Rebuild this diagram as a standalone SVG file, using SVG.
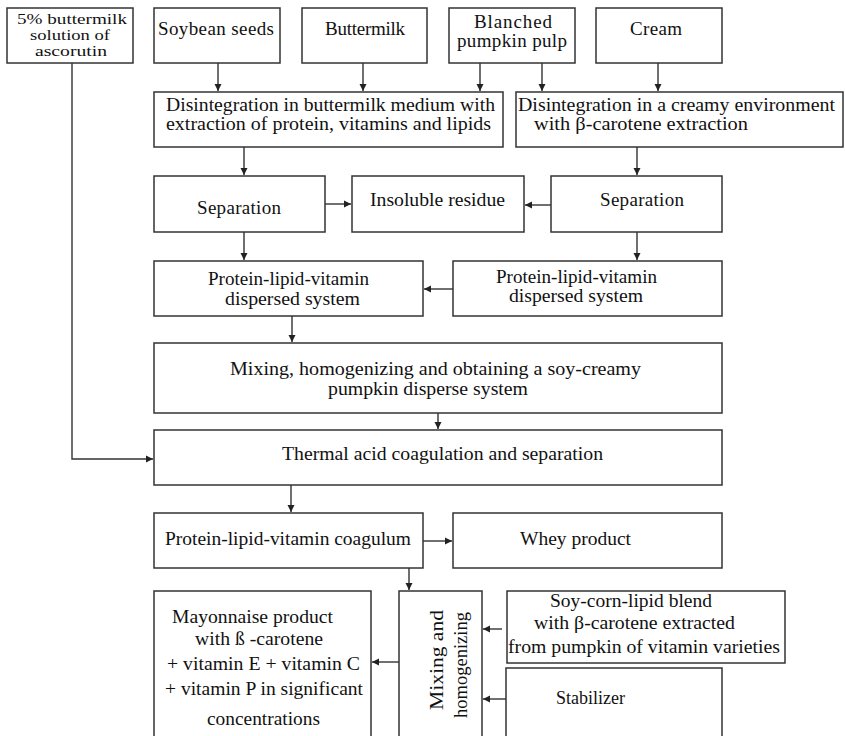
<svg xmlns="http://www.w3.org/2000/svg" width="845" height="736" viewBox="0 0 845 736" font-family="'Liberation Serif', 'Times New Roman', serif">
<defs>
<marker id="ah" markerWidth="8" markerHeight="8" refX="7" refY="4" orient="auto" markerUnits="userSpaceOnUse">
<path d="M0,0.5 L7,4 L0,7.5 Z" fill="#222"/>
</marker>
<style>
rect{fill:#fff;stroke:#333;stroke-width:1.5}
text{font-family:'Liberation Serif','Times New Roman',serif;font-size:19px;fill:#111}
.c{text-anchor:middle}
.s{font-size:15px}
#connectors path{fill:none;stroke:#333;stroke-width:1.4;marker-end:url(#ah)}
</style>
</defs>
<rect x="0" y="0" width="845" height="736" style="fill:#fff;stroke:none"/>

<g id="n-ascorutin"><rect x="7" y="8" width="126" height="55"/>
<text x="17" y="24" class="s" textLength="110" lengthAdjust="spacingAndGlyphs">5% buttermilk</text>
<text x="30" y="40" class="s" textLength="80" lengthAdjust="spacingAndGlyphs">solution  of</text>
<text x="35" y="56" class="s" textLength="72" lengthAdjust="spacingAndGlyphs">ascorutin</text></g>

<g id="n-soy"><rect x="154" y="8" width="126" height="55"/>
<text x="158" y="35" textLength="116" lengthAdjust="spacing">Soybean seeds</text></g>

<g id="n-buttermilk"><rect x="302" y="8" width="125" height="55"/>
<text x="325" y="35" textLength="80" lengthAdjust="spacing">Buttermilk</text></g>

<g id="n-pumpkin"><rect x="449" y="8" width="126" height="55"/>
<text x="474" y="28" textLength="78" lengthAdjust="spacing">Blanched</text>
<text x="457" y="47" textLength="110" lengthAdjust="spacing">pumpkin  pulp</text></g>

<g id="n-cream"><rect x="596" y="8" width="126" height="55"/>
<text x="630" y="35" textLength="52" lengthAdjust="spacing">Cream</text></g>

<g id="n-dis1"><rect x="154" y="92" width="349" height="55"/>
<text x="166" y="111" textLength="329" lengthAdjust="spacingAndGlyphs">Disintegration in buttermilk  medium  with</text>
<text x="166" y="130" textLength="325" lengthAdjust="spacingAndGlyphs">extraction of protein, vitamins  and lipids</text></g>

<g id="n-dis2"><rect x="516" y="92" width="327" height="55"/>
<text x="518" y="111" textLength="317" lengthAdjust="spacingAndGlyphs">Disintegration in a creamy environment</text>
<text x="534" y="130" textLength="214" lengthAdjust="spacingAndGlyphs">with β-carotene extraction</text></g>

<g id="n-sep1"><rect x="154" y="176" width="171" height="56"/>
<text x="197" y="214" textLength="84" lengthAdjust="spacing">Separation</text></g>

<g id="n-residue"><rect x="352" y="176" width="172" height="56"/>
<text x="370" y="206" textLength="135" lengthAdjust="spacingAndGlyphs">Insoluble  residue</text></g>

<g id="n-sep2"><rect x="551" y="176" width="171" height="56"/>
<text x="600" y="206" textLength="84" lengthAdjust="spacing">Separation</text></g>

<g id="n-plv1"><rect x="154" y="261" width="269" height="55"/>
<text x="208" y="285" textLength="161" lengthAdjust="spacingAndGlyphs">Protein-lipid-vitamin</text>
<text x="225" y="305" textLength="135" lengthAdjust="spacingAndGlyphs">dispersed system</text></g>

<g id="n-plv2"><rect x="453" y="261" width="269" height="55"/>
<text x="496" y="283" textLength="161" lengthAdjust="spacingAndGlyphs">Protein-lipid-vitamin</text>
<text x="509" y="302" textLength="134" lengthAdjust="spacingAndGlyphs">dispersed system</text></g>

<g id="n-mixing"><rect x="154" y="343" width="568" height="70"/>
<text x="230" y="375" textLength="411" lengthAdjust="spacingAndGlyphs">Mixing,  homogenizing  and obtaining  a  soy-creamy</text>
<text x="328" y="395" textLength="200" lengthAdjust="spacingAndGlyphs">pumpkin  disperse  system</text></g>

<g id="n-thermal"><rect x="154" y="430" width="568" height="55"/>
<text x="282" y="460" textLength="321" lengthAdjust="spacingAndGlyphs">Thermal acid coagulation  and separation</text></g>

<g id="n-coagulum"><rect x="154" y="513" width="269" height="55"/>
<text x="165" y="545" textLength="246" lengthAdjust="spacingAndGlyphs">Protein-lipid-vitamin  coagulum</text></g>

<g id="n-whey"><rect x="453" y="513" width="269" height="55"/>
<text x="520" y="545" textLength="111" lengthAdjust="spacingAndGlyphs">Whey product</text></g>

<g id="n-mayo"><rect x="154" y="591" width="217" height="160"/>
<text x="172" y="623" textLength="161" lengthAdjust="spacingAndGlyphs">Mayonnaise product</text>
<text x="195" y="645" textLength="128" lengthAdjust="spacingAndGlyphs">with ß -carotene</text>
<text x="167" y="670" textLength="193" lengthAdjust="spacingAndGlyphs">+ vitamin  E + vitamin  C</text>
<text x="165" y="695" textLength="198" lengthAdjust="spacingAndGlyphs">+ vitamin  P in significant</text>
<text x="207" y="725" textLength="113" lengthAdjust="spacingAndGlyphs">concentrations</text></g>

<g id="n-mixhom"><rect x="399" y="591" width="83" height="160"/>
<text transform="translate(443,660) rotate(-90)" class="c" textLength="100" lengthAdjust="spacingAndGlyphs">Mixing  and</text>
<text transform="translate(467,665) rotate(-90)" class="c" textLength="106" lengthAdjust="spacingAndGlyphs">homogenizing</text></g>

<g id="n-blend"><rect x="507" y="591" width="278" height="72"/>
<text x="550" y="607" textLength="162" lengthAdjust="spacingAndGlyphs">Soy-corn-lipid  blend</text>
<text x="534" y="629" textLength="201" lengthAdjust="spacingAndGlyphs">with β-carotene extracted</text>
<text x="508" y="653" textLength="272" lengthAdjust="spacingAndGlyphs">from pumpkin  of vitamin  varieties</text></g>

<g id="n-stabilizer"><rect x="506" y="668" width="216" height="83"/>
<text x="556" y="704" textLength="69" lengthAdjust="spacingAndGlyphs">Stabilizer</text></g>

<g id="connectors">
<path d="M218,63 V91"/>
<path d="M363,63 V91"/>
<path d="M480,63 V91"/>
<path d="M542,63 V91"/>
<path d="M658,63 V91"/>
<path d="M244,147 V175"/>
<path d="M637,147 V175"/>
<path d="M325,204 H351"/>
<path d="M551,205 H525"/>
<path d="M244,232 V260"/>
<path d="M637,232 V260"/>
<path d="M453,289 H424"/>
<path d="M292,316 V342"/>
<path d="M438,413 V429"/>
<path d="M72,63 V459 H153"/>
<path d="M291,485 V512"/>
<path d="M423,541 H452"/>
<path d="M409,568 V590"/>
<path d="M399,662 H372"/>
<path d="M502,629 H483"/>
<path d="M506,699 H483"/>
</g>
</svg>
